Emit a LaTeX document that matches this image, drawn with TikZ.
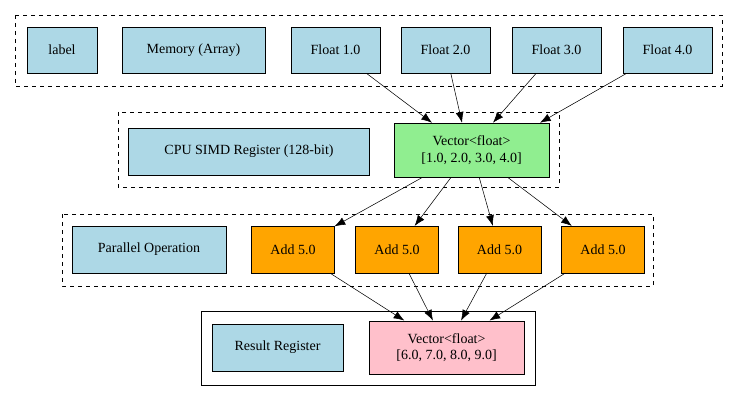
\documentclass[tikz,border=0pt]{standalone}
\usepackage{fontspec}
\setmainfont{Liberation Serif}
\usetikzlibrary{arrows.meta}
\definecolor{lblue}{HTML}{ADD8E6}
\definecolor{lgreen}{HTML}{90EE90}
\definecolor{orng}{HTML}{FFA500}
\definecolor{pnk}{HTML}{FFC0CB}
\begin{document}
\begin{tikzpicture}[x=0.75pt,y=-0.75pt,
  every node/.style={draw,rectangle,inner sep=0pt,font=\fontsize{10.5}{12.5}\selectfont,align=center},
  box/.style={fill=lblue},
  arr/.style={-{Latex[length=8pt,width=6pt]}}]
				%frame and cluster boxes drawn by hand
				\useasboundingbox (0,0) rectangle (736,403);
				\draw[dashed] (15,15) rectangle (722,86);
				\draw[dashed] (118,112) rectangle (559,187);
				\draw[dashed] (62,214) rectangle (653,286);
				\draw (201,311) rectangle (535,385);
				%% top row
				\node[box,minimum width=52.5pt,minimum height=34.5pt] (lbl) at (62,50){label};
				\node[box,minimum width=107pt,minimum height=34.5pt] (mem) at (193.5,50){Memory (Array)};
				\foreach \i/\x in {1/335.5, 2/445.5, 3/556.5, 4/667.5}{
					\node[box,minimum width=67pt,minimum height=34.5pt] (f\i) at (\x,50){Float \i.0};
					}
				%% register row
				\node[box,minimum width=181pt,minimum height=35pt] (cpu) at (249,151.5){CPU SIMD Register (128-bit)};
				\node[fill=lgreen,minimum width=116pt,minimum height=40.5pt] (vec) at (471.5,150){Vector<float>\\{[1.0, 2.0, 3.0, 4.0]}};
				%% operation row
				\node[box,minimum width=115.5pt,minimum height=35pt] (par) at (149,249.5){Parallel Operation};
				\foreach \i/\x in {1/293, 2/397, 3/499.5, 4/603}{
					\node[fill=orng,minimum width=62pt,minimum height=35pt] (add\i) at (\x,249.5){Add 5.0};
					}
				%% result row
				\node[box,minimum width=98pt,minimum height=35pt] (res) at (277.5,347.5){Result Register};
				\node[fill=pnk,minimum width=116pt,minimum height=40pt] (out) at (446.5,347.5){Vector<float>\\{[6.0, 7.0, 8.0, 9.0]}};

				\draw[arr] (f1)--(vec.north-|432,0);
				\draw[arr] (f2)--(vec.north-|462,0);
				\draw[arr] (f3)--(vec.north-|493,0);
				\draw[arr] (f4)--(vec.north-|540,0);
				\foreach \i in {1,...,4}{
					\draw[arr] (vec)--(add\i);
					\draw[arr] (add\i)--(out);
					}
				\end{tikzpicture}
\end{document}
